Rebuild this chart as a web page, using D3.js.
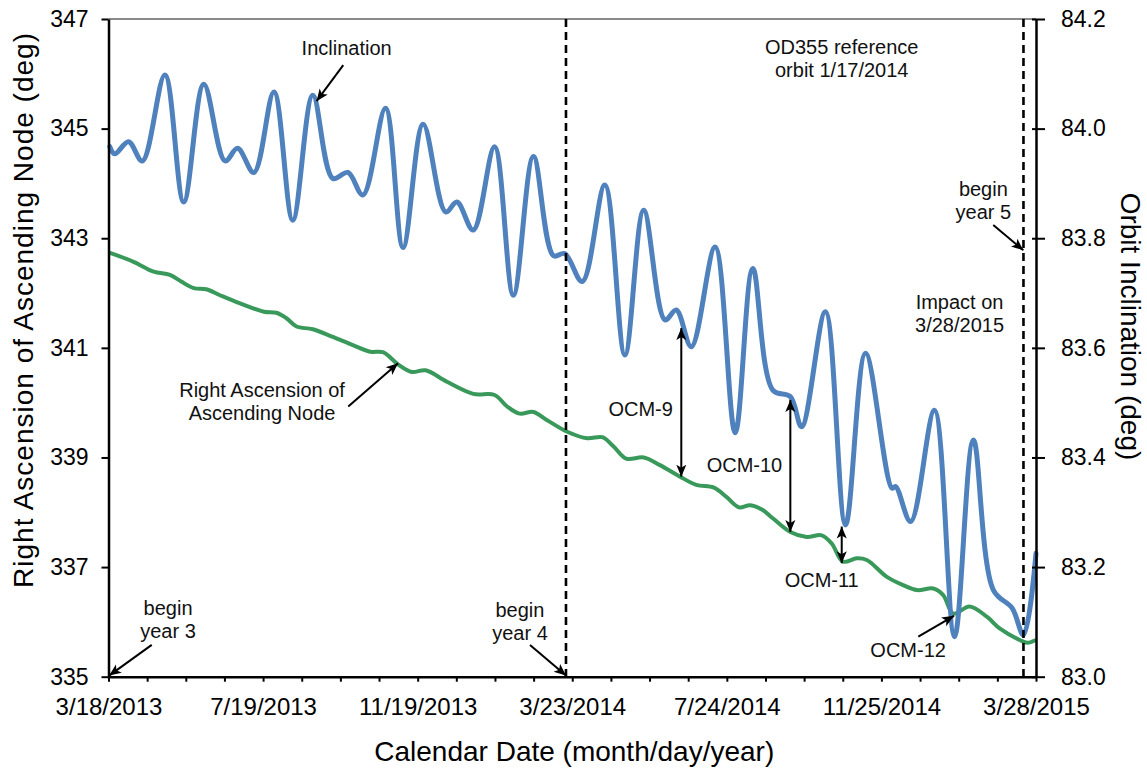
<!DOCTYPE html>
<html>
<head>
<meta charset="utf-8">
<script src="https://cdn.jsdelivr.net/npm/d3@7"></script>
<style>
  body { margin: 0; background: #fff; }
  svg { font-family: "Liberation Sans", Arial, sans-serif; }
</style>
</head>
<body>
<div id="chart"></div>
<script>
// x axis: days since 3/18/2013 (begin year 3)
const dateLabels = ["3/18/2013", "7/19/2013", "11/19/2013", "3/23/2014", "7/24/2014", "11/25/2014", "3/28/2015"];
const spanDays = 740;
const yearStartDays = [365, 730];

// right ascension of ascending node (left axis, deg)
const raanTicks = [335, 337, 339, 341, 343, 345, 347];
const raanDays = [0, 20, 36, 49, 58, 68, 78, 89, 105, 124, 134, 142, 150, 163, 179, 195, 209, 219, 231, 242,
  253, 270, 291, 308, 318, 328, 339, 350, 366, 382, 394, 403, 413, 427, 440, 456, 469, 483, 493, 503,
  512, 522, 530, 544, 557, 569, 577, 586, 597, 605, 621, 634, 645, 658, 666, 674, 687, 701, 711, 727, 733, 740];
const raanValues = [342.74, 342.57, 342.39, 342.33, 342.21, 342.09, 342.07, 341.96, 341.81, 341.66, 341.64, 341.54, 341.39, 341.34, 341.20, 341.05, 340.93, 340.92, 340.70, 340.56,
  340.59, 340.38, 340.16, 340.14, 339.93, 339.80, 339.83, 339.68, 339.47, 339.35, 339.37, 339.20, 338.98, 339.00, 338.86, 338.65, 338.50, 338.45, 338.28, 338.09,
  338.13, 338.04, 337.89, 337.64, 337.55, 337.58, 337.43, 337.10, 337.16, 337.13, 336.82, 336.67, 336.58, 336.61, 336.49, 336.15, 336.28, 336.09, 335.88, 335.67, 335.62, 335.67];

// orbit inclination (right axis, deg)
const incTicks = [83.0, 83.2, 83.4, 83.6, 83.8, 84.0, 84.2];
const incDays = [1, 5, 16, 27, 45, 60, 76, 93, 103, 116, 132, 147, 163, 179, 191, 203, 221, 235, 251, 269,
  278, 291, 308, 323, 339, 355, 364, 378, 396, 412, 427, 444, 453, 465, 484, 500, 514, 530, 544, 553,
  572, 588, 604, 625, 628, 640, 659, 675, 690, 706, 721, 730, 740];
const incValues = [83.967, 83.954, 83.976, 83.941, 84.098, 83.866, 84.081, 83.941, 83.964, 83.920, 84.067, 83.833, 84.061, 83.909, 83.920, 83.879, 84.037, 83.783, 84.008, 83.848,
  83.866, 83.815, 83.967, 83.696, 83.949, 83.768, 83.772, 83.721, 83.897, 83.587, 83.851, 83.651, 83.669, 83.602, 83.784, 83.445, 83.745, 83.523, 83.511, 83.456,
  83.666, 83.277, 83.590, 83.344, 83.347, 83.283, 83.486, 83.073, 83.432, 83.158, 83.125, 83.076, 83.225];

// orbit correction maneuvers: day, inclination before, raan at same day
const ocmNames = ["OCM-9", "OCM-10", "OCM-11"];
const ocmDays = [457, 544, 585];
const ocmInc = [83.636, 83.505, 83.274];
const ocmRaan = [338.65, 337.64, 337.07];

const W = 1147, H = 773;
const plotLeft = 108.5, plotRight = 1036, plotTop = 19, plotBottom = 676.7;

const svg = d3.select("#chart").append("svg")
  .attr("width", W)
  .attr("height", H);

const x = d3.scaleLinear().domain([0, spanDays]).range([plotLeft, plotRight]);
const yL = d3.scaleLinear().domain([335, 347]).range([plotBottom, plotTop]);
const yR = d3.scaleLinear().domain([83.0, 84.2]).range([plotBottom, plotTop]);

const defs = svg.append("defs");
defs.append("marker")
  .attr("id", "arrow")
  .attr("viewBox", "0 0 10 10")
  .attr("refX", 10).attr("refY", 5)
  .attr("markerWidth", 12).attr("markerHeight", 12)
  .attr("markerUnits", "userSpaceOnUse")
  .attr("orient", "auto-start-reverse")
  .append("path")
  .attr("d", "M0,0.8 L10,5 L0,9.2 L2.5,5 Z")
  .attr("fill", "#000");

// top frame line
svg.append("line")
  .attr("x1", plotLeft).attr("x2", plotRight)
  .attr("y1", plotTop).attr("y2", plotTop)
  .attr("stroke", "#8a8a8a")
  .attr("stroke-width", 2);

// curves
const raanLine = d3.line()
  .x((d, i) => x(raanDays[i]))
  .y(d => yL(d))
  .curve(d3.curveCatmullRom.alpha(0.5));

const incLine = d3.line()
  .x((d, i) => x(incDays[i]))
  .y(d => yR(d))
  .curve(d3.curveCatmullRom.alpha(0.5));

svg.append("path")
  .attr("d", raanLine(raanValues))
  .attr("fill", "none")
  .attr("stroke", "#39995b")
  .attr("stroke-width", 4)
  .attr("stroke-linejoin", "round");

svg.append("path")
  .attr("d", incLine(incValues))
  .attr("fill", "none")
  .attr("stroke", "#4f81bd")
  .attr("stroke-width", 5)
  .attr("stroke-linejoin", "round")
  .attr("stroke-linecap", "round");

// year boundaries
svg.selectAll(".year")
  .data(yearStartDays)
  .enter()
  .append("line")
  .attr("x1", d => x(d)).attr("x2", d => x(d))
  .attr("y1", plotTop).attr("y2", plotBottom)
  .attr("stroke", "#000")
  .attr("stroke-width", 2.6)
  .attr("stroke-dasharray", "8,5");

// axes
const minorTicks = d3.range(0, 25).map(i => i * spanDays / 24);
const xAxis = svg.append("g")
  .attr("transform", `translate(0,${plotBottom})`)
  .call(d3.axisBottom(x)
    .tickValues(minorTicks)
    .tickSize(5)
    .tickSizeOuter(0)
    .tickPadding(16)
    .tickFormat((d, i) => i % 4 === 0 ? dateLabels[i / 4] : ""));
xAxis.selectAll("text").attr("font-size", 24).attr("fill", "#000");

const leftAxis = svg.append("g")
  .attr("transform", `translate(${plotLeft},0)`)
  .call(d3.axisLeft(yL)
    .tickValues(raanTicks)
    .tickSize(7)
    .tickSizeOuter(0)
    .tickPadding(13));
leftAxis.selectAll("text").attr("font-size", 23).attr("fill", "#000");

const rightAxis = svg.append("g")
  .attr("transform", `translate(${plotRight},0)`)
  .call(d3.axisRight(yR)
    .tickValues(incTicks)
    .tickSize(9)
    .tickSizeOuter(0)
    .tickPadding(16)
    .tickFormat(d3.format(".1f")));
rightAxis.selectAll(".tick line").attr("x1", -4);
rightAxis.selectAll("text").attr("font-size", 23).attr("fill", "#000");

[xAxis, leftAxis, rightAxis].forEach(g => {
  g.select(".domain").attr("stroke", "#000").attr("stroke-width", 2.5);
  g.selectAll(".tick line").attr("stroke", "#000").attr("stroke-width", 2);
});

// axis titles
svg.append("text")
  .attr("x", (plotLeft + plotRight) / 2 + 2)
  .attr("y", 761)
  .attr("text-anchor", "middle")
  .attr("font-size", 28)
  .text("Calendar Date (month/day/year)");

svg.append("text")
  .attr("transform", "translate(33,310.5) rotate(-90)")
  .attr("text-anchor", "middle")
  .attr("font-size", 28)
  .attr("textLength", 555)
  .attr("lengthAdjust", "spacing")
  .text("Right Ascension of Ascending Node (deg)");

svg.append("text")
  .attr("transform", "translate(1121,326.5) rotate(90)")
  .attr("text-anchor", "middle")
  .attr("font-size", 28)
  .text("Orbit Inclination (deg)");

// annotations (positions in days / left-axis degrees)
const notes = [
  { lines: ["Inclination"], d: 190, v: 346.34 },
  { lines: ["Right Ascension of", "Ascending Node"], d: 122.5, v: 340.10 },
  { lines: ["OD355 reference", "orbit 1/17/2014"], d: 585, v: 346.36 },
  { lines: ["begin", "year 5"], d: 698, v: 343.77 },
  { lines: ["Impact on", "3/28/2015"], d: 679, v: 341.71 },
  { lines: ["OCM-12"], d: 638, v: 335.36 },
  { lines: ["begin", "year 3"], d: 47.5, v: 336.12 },
  { lines: ["begin", "year 4"], d: 328.3, v: 336.09 }
];
const ocmLabelPos = [[424.6, 339.76], [507.4, 338.73], [569, 336.63]];
ocmNames.forEach((n, i) => notes.push({ lines: [n], d: ocmLabelPos[i][0], v: ocmLabelPos[i][1] }));

notes.forEach(n => {
  const t = svg.append("text")
    .attr("text-anchor", "middle")
    .attr("font-size", 20)
    .attr("fill", "#111");
  n.lines.forEach((s, j) => {
    t.append("tspan")
      .attr("x", x(n.d))
      .attr("y", yL(n.v) + j * 23)
      .text(s);
  });
});

const arrows = [
  { from: [187.3, 346.16], to: [166, 345.5] },
  { from: [191.3, 339.93], to: [231, 340.72] },
  { from: [705.9, 343.24], to: [729.9, 342.78] },
  { from: [646.1, 335.73], to: [674.6, 336.11] },
  { from: [34.5, 335.58], to: [0.5, 335.02] },
  { from: [336.3, 335.58], to: [365, 335.02] }
];

svg.selectAll(".arrow")
  .data(arrows)
  .enter()
  .append("line")
  .attr("x1", d => x(d.from[0])).attr("y1", d => yL(d.from[1]))
  .attr("x2", d => x(d.to[0])).attr("y2", d => yL(d.to[1]))
  .attr("stroke", "#000")
  .attr("stroke-width", 2)
  .attr("marker-end", "url(#arrow)");

svg.selectAll(".ocm")
  .data(ocmDays)
  .enter()
  .append("line")
  .attr("x1", d => x(d)).attr("x2", d => x(d))
  .attr("y1", (d, i) => yR(ocmInc[i]))
  .attr("y2", (d, i) => yL(ocmRaan[i]))
  .attr("stroke", "#000")
  .attr("stroke-width", 2)
  .attr("marker-start", "url(#arrow)")
  .attr("marker-end", "url(#arrow)");
</script>
</body>
</html>
